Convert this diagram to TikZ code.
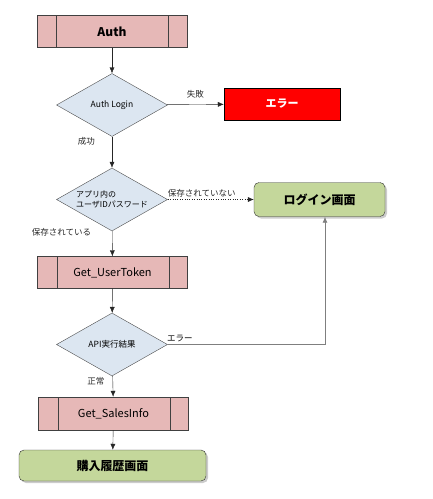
\documentclass[tikz,border=0pt]{standalone}
\usepackage{fontspec}
\setmainfont{Noto Sans CJK JP}
\usetikzlibrary{shapes.geometric,arrows.meta,shadows}
\definecolor{procfill}{HTML}{E6B8B7}
\definecolor{decfill}{HTML}{DCE6F1}
\definecolor{scrfill}{HTML}{C4D79B}
\definecolor{linegray}{HTML}{7F7F7F}
\begin{document}
\begin{tikzpicture}[x=1pt,y=-1pt,
  proc/.style={draw=black!75,fill=procfill,minimum width=150pt,minimum height=32pt,inner sep=0pt,font=\fontsize{11}{13}\selectfont},
  dec/.style={diamond,draw=black!70,fill=decfill,minimum width=111pt,minimum height=63pt,inner sep=0pt,aspect=1.76,font=\fontsize{8.5}{11}\selectfont},
  scr/.style={draw=black!80,fill=scrfill,rounded corners=5pt,drop shadow={shadow xshift=2pt,shadow yshift=-2pt,opacity=0.4},inner sep=0pt,font=\bfseries\fontsize{12}{14}\selectfont},
  err/.style={draw=black,fill=red,inner sep=0pt,text=white,font=\bfseries\fontsize{11}{13}\selectfont},
  arr/.style={-{Latex[length=6pt,width=5pt]},black!85},
  lbl/.style={font=\fontsize{8.5}{10}\selectfont,inner sep=1pt}]
\useasboundingbox (0,0) rectangle (432,499);
% process boxes
\node[proc,font=\bfseries\fontsize{12}{14}\selectfont] (auth) at (112,31.5) {Auth};
\draw[black!75] (56,15.5) -- (56,47.5) (168,15.5) -- (168,47.5);
\node[dec] (d1) at (112,105) {Auth Login};
\node[err,minimum width=116pt,minimum height=32pt] (err) at (282,104) {エラー};
\node[dec,align=left,font=\fontsize{8}{10.5}\selectfont] (d2) at (112,199.5) {アプリ内の\\ユーザIDパスワード};
\node[scr,minimum width=131pt,minimum height=34pt] (login) at (319.5,199.5) {ログイン画面};
\node[proc] (tok) at (112.5,272.5) {Get\_UserToken};
\draw[black!75] (57,256.5) -- (57,288.5) (169,256.5) -- (169,288.5);
\node[dec] (d3) at (112,344.5) {API実行結果};
\node[proc,minimum height=33pt] (sales) at (113.5,413.5) {Get\_SalesInfo};
\draw[black!75] (58,397) -- (58,430) (170,397) -- (170,430);
\node[scr,minimum width=187pt,minimum height=31pt] (buy) at (112.5,465.5) {購入履歴画面};
% connectors
\draw[arr] (auth) -- (d1);
\draw[arr] (d1) -- node[lbl,above=5pt] {失敗} (err);
\draw[arr] (d1) -- node[lbl,at start,anchor=east,xshift=-16pt,yshift=-5pt] {成功} (d2);
\draw[arr,dotted] (d2) -- node[lbl,at start,anchor=south west,xshift=-1pt,yshift=1pt] {保存されていない} (login);
\draw[arr] (d2) -- node[lbl,at start,anchor=east,xshift=-20pt,yshift=-1pt] {保存されている} (tok);
\draw[arr] (tok) -- (d3);
\coordinate (c1) at (325,344.5);
\draw[-{Latex[length=6pt,width=5pt]},linegray,line width=0.8pt] (d3.east) -- node[lbl,at start,anchor=south west,xshift=-2pt,yshift=1pt,black] {エラー} (c1) -- (c1 |- login.south);
\draw[arr] (d3) -- node[lbl,at start,anchor=east,xshift=-7pt,yshift=-5pt] {正常} (sales);
\draw[arr] (sales) -- (buy);
\end{tikzpicture}
\end{document}
